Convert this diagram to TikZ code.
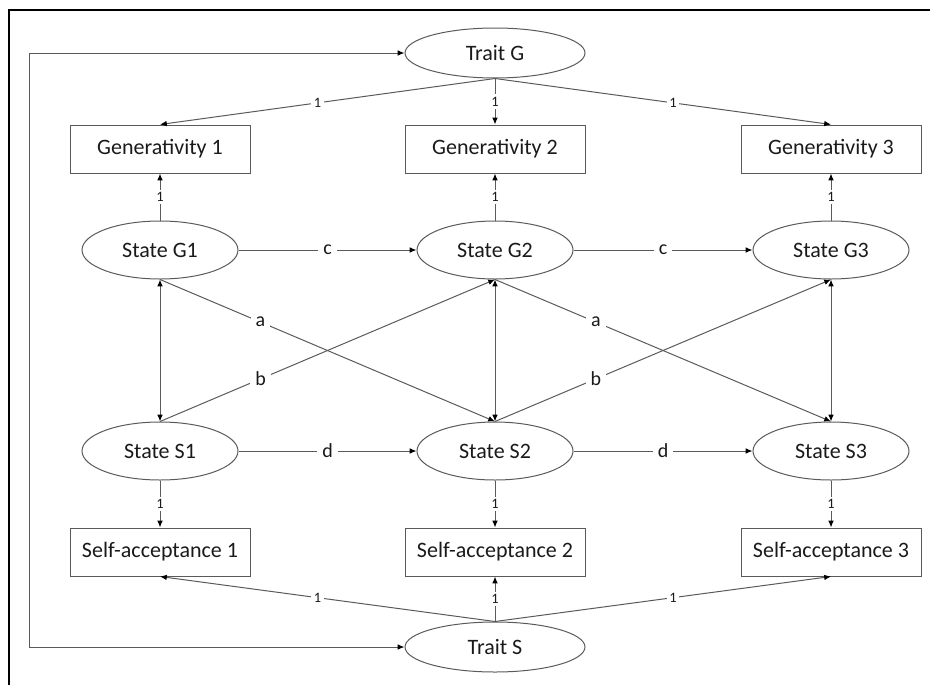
\documentclass[tikz,border=0pt]{standalone}
\usepackage{fontspec}
\setmainfont{Carlito}
\usetikzlibrary{arrows.meta,shapes.geometric}
\definecolor{edgegray}{HTML}{5A5A5A}
\definecolor{txt}{HTML}{1A1A1A}
\tikzset{
  latent/.style={ellipse, draw=edgegray, line width=0.5pt, minimum width=78pt, minimum height=29pt, inner sep=0pt, font=\fontsize{11}{13}\selectfont, text=txt},
  traitnode/.style={latent, minimum width=90pt, minimum height=25pt},
  obs/.style={rectangle, draw=edgegray, line width=0.5pt, minimum width=90pt, minimum height=24pt, inner sep=0pt, font=\fontsize{11}{13}\selectfont, text=txt},
  tipk/.tip={Latex[length=3.4pt,width=2.8pt,color=black]},
  path1/.style={draw=edgegray, line width=0.5pt, -tipk},
  path2/.style={draw=edgegray, line width=0.5pt, tipk-tipk},
  one/.style={fill=white, inner sep=1.2pt, font=\fontsize{7.2}{8}\selectfont, text=txt},
  coef/.style={fill=white, inner sep=2.5pt, font=\fontsize{10}{12}\selectfont, text=txt},
}
\begin{document}
\begin{tikzpicture}[x=0.5pt,y=-0.5pt]
\useasboundingbox (0,0) rectangle (930,685);
% outer frame
\draw[black, line width=0.8pt] (9,685) -- (9,10) -- (930,10);

% nodes
\node[traitnode] (TG) at (495,53) {Trait G};
\node[obs] (Gen1) at (160,149) {Generativity 1};
\node[obs] (Gen2) at (495,149) {Generativity 2};
\node[obs] (Gen3) at (831,149) {Generativity 3};
\node[latent] (G1) at (160,250) {State G1};
\node[latent] (G2) at (495,250) {State G2};
\node[latent] (G3) at (831,250) {State G3};
\node[latent] (S1) at (160,451) {State S1};
\node[latent] (S2) at (495,451) {State S2};
\node[latent] (S3) at (831,451) {State S3};
\node[obs] (SA1) at (160,552) {Self-acceptance 1};
\node[obs] (SA2) at (495,552) {Self-acceptance 2};
\node[obs] (SA3) at (831,552) {Self-acceptance 3};
\node[traitnode] (TS) at (495,647) {Trait S};

% trait covariance bracket
\coordinate (LT) at (29,53);
\coordinate (LB) at (29,647);
\draw[path2] (TG.west) -- (LT) -- (LB) -- (TS.west);

% trait G loadings
\draw[path1] (TG.south) -- node[one, pos=0.53] {1} (Gen1.north);
\draw[path1] (TG.south) -- node[one] {1} (Gen2.north);
\draw[path1] (TG.south) -- node[one, pos=0.53] {1} (Gen3.north);

% state G loadings
\draw[path1] (G1.north) -- node[one] {1} (Gen1.south);
\draw[path1] (G2.north) -- node[one] {1} (Gen2.south);
\draw[path1] (G3.north) -- node[one] {1} (Gen3.south);

% state S loadings
\draw[path1] (S1.south) -- node[one] {1} (SA1.north);
\draw[path1] (S2.south) -- node[one] {1} (SA2.north);
\draw[path1] (S3.south) -- node[one] {1} (SA3.north);

% trait S loadings
\draw[path1] (TS.north) -- node[one, pos=0.53] {1} (SA1.south);
\draw[path1] (TS.north) -- node[one] {1} (SA2.south);
\draw[path1] (TS.north) -- node[one, pos=0.53] {1} (SA3.south);

% autoregressive paths
\draw[path1] (G1.east) -- node[coef] {c} (G2.west);
\draw[path1] (G2.east) -- node[coef] {c} (G3.west);
\draw[path1] (S1.east) -- node[coef] {d} (S2.west);
\draw[path1] (S2.east) -- node[coef] {d} (S3.west);

% within-time covariances
\draw[path2] (G1.south) -- (S1.north);
\draw[path2] (G2.south) -- (S2.north);
\draw[path2] (G3.south) -- (S3.north);

% cross-lagged paths
\draw[path1] (G1.south) -- node[coef, pos=0.3] {a} (S2.north);
\draw[path1] (G2.south) -- node[coef, pos=0.3] {a} (S3.north);
\draw[path1] (S1.north) -- node[coef, pos=0.3] {b} (G2.south);
\draw[path1] (S2.north) -- node[coef, pos=0.3] {b} (G3.south);
\end{tikzpicture}
\end{document}
